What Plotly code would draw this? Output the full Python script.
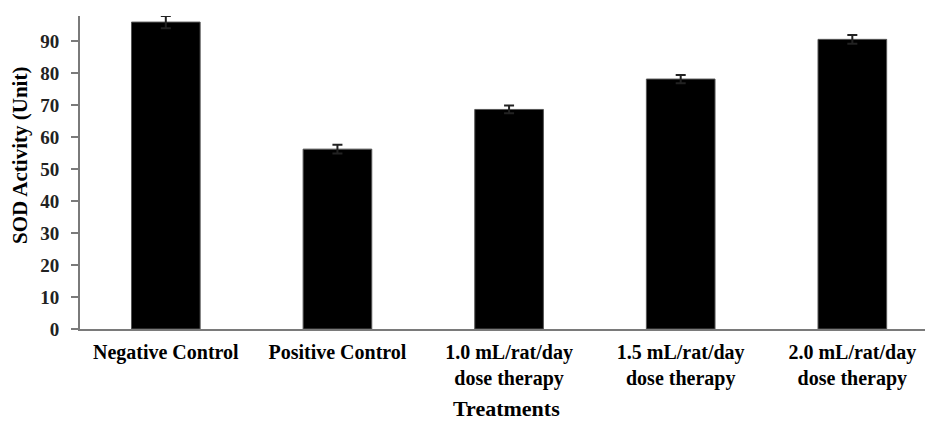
import plotly.graph_objects as go

categories = ["Negative Control", "Positive Control",
              "1.0 mL/rat/day<br>dose therapy",
              "1.5 mL/rat/day<br>dose therapy",
              "2.0 mL/rat/day<br>dose therapy"]
sod_activity = [95.9, 56.2, 68.6, 78.1, 90.5]
sod_error = [1.9, 1.4, 1.2, 1.3, 1.4]
y_ticks = [0, 10, 20, 30, 40, 50, 60, 70, 80, 90]

FONT = "Liberation Serif"

fig = go.Figure()
fig.add_trace(go.Bar(
    x=list(range(len(categories))),
    y=sod_activity,
    width=0.4,
    marker=dict(color="black", line=dict(color="#555", width=1)),
    error_y=dict(type="data", array=sod_error, visible=True,
                 color="#222", thickness=2, width=5),
))

fig.update_layout(
    width=925, height=413,
    margin=dict(l=72, r=0, t=8, b=92),
    plot_bgcolor="white", paper_bgcolor="white",
    showlegend=False,
    font=dict(family=FONT, color="black", size=17, weight="bold"),
    xaxis=dict(
        range=[-0.5, 4.47],
        tickmode="array",
        tickvals=list(range(len(categories))),
        ticktext=categories,
        showline=True, linecolor="#7a7a7a", linewidth=2,
        ticks="", showgrid=False, zeroline=False,
        tickfont=dict(family=FONT, size=20, color="black", weight="bold"),
        ticklabelstandoff=4,
    ),
    yaxis=dict(
        range=[0, 97.8],
        tickmode="array", tickvals=y_ticks,
        showline=True, linecolor="#7a7a7a", linewidth=2,
        ticks="outside", ticklen=7, tickcolor="#7a7a7a", tickwidth=2,
        showgrid=False, zeroline=False,
        tickfont=dict(family=FONT, size=19, color="#222", weight="bold"),
        ticklabelstandoff=8,
    ),
    annotations=[
        dict(text="Treatments", xref="paper", yref="paper",
             x=0.5, y=-0.2524, xanchor="center", yanchor="middle",
             showarrow=False,
             font=dict(family=FONT, size=22, color="black", weight="bold")),
        dict(text="SOD Activity (Unit)", xref="paper", yref="paper",
             x=-0.0703, y=0.553, xanchor="center", yanchor="middle",
             textangle=-90, showarrow=False,
             font=dict(family=FONT, size=21, color="black", weight="bold")),
    ],
)

fig.write_html("out.html")
